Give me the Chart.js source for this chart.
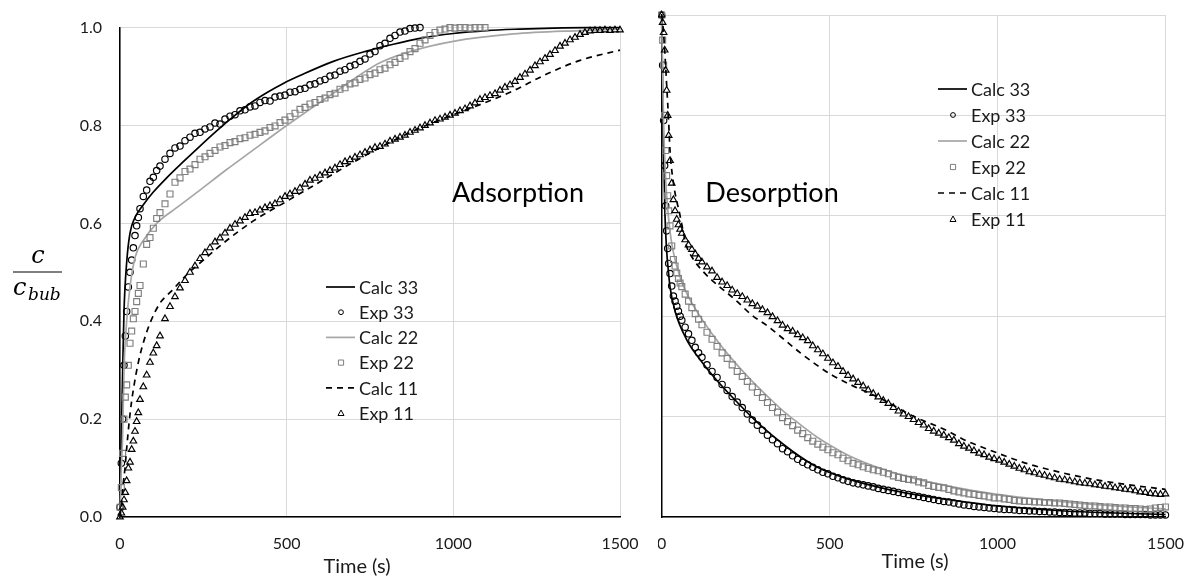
<!DOCTYPE html>
<html>
<head>
<meta charset="utf-8">
<title>Adsorption / Desorption</title>
<script src="https://cdn.jsdelivr.net/npm/chart.js@4/dist/chart.umd.min.js"></script>
<style>
    body { margin: 0; background: #fff; width: 1201px; height: 579px; overflow: hidden; position: relative; }
    #wrap-ads { position: absolute; left: 0; top: 0; width: 658px; height: 579px; background: #fff; z-index: 2; overflow: hidden; }
    #wrap-des { position: absolute; left: 640px; top: 0; width: 561px; height: 579px; z-index: 1; }
</style>
</head>
<body>
<div id="wrap-ads"><canvas id="ads" width="656" height="579"></canvas></div>
<div id="wrap-des"><canvas id="des" width="561" height="579"></canvas></div>
<script>
// ---- data ----
const xTicks = [0, 500, 1000, 1500];
const yTicks = [0, 0.2, 0.4, 0.6, 0.8, 1.0];
const seriesNames = ["Calc 33", "Exp 33", "Calc 22", "Exp 22", "Calc 11", "Exp 11"];

// adsorption (left)
const expTimesA = [0, 4, 8, 12, 16, 20, 25, 30, 35, 40, 45, 50, 55, 60,
    70, 80, 90, 100, 110, 120,
    135, 150, 165, 180, 195, 210, 225, 240, 255, 270, 285, 300, 315, 330, 345, 360, 375, 390, 405, 420,
    435, 450, 465, 480, 495, 510, 525, 540, 555, 570, 585, 600, 615, 630, 645, 660, 675, 690, 705, 720,
    735, 750, 765, 780, 795, 810, 825, 840, 855, 870, 885, 900, 915, 930, 945, 960, 975, 990, 1005, 1020,
    1035, 1050, 1065, 1080, 1095, 1110, 1125, 1140, 1155, 1170, 1185, 1200, 1215, 1230, 1245, 1260, 1275, 1290, 1305, 1320,
    1335, 1350, 1365, 1380, 1395, 1410, 1425, 1440, 1455, 1470, 1485, 1500];
const exp33A = [0.02, 0.11, 0.20, 0.31, 0.37, 0.42, 0.47, 0.50, 0.525, 0.55, 0.575, 0.595, 0.612, 0.63,
    0.655, 0.668, 0.686, 0.694, 0.708, 0.717,
    0.731, 0.743, 0.754, 0.758, 0.769, 0.776, 0.784, 0.786, 0.793, 0.797, 0.805, 0.803, 0.813, 0.819, 0.822, 0.83, 0.832, 0.838, 0.84, 0.847,
    0.851, 0.85, 0.858, 0.86, 0.862, 0.868, 0.869, 0.874, 0.876, 0.883, 0.885, 0.891, 0.894, 0.901, 0.903, 0.911, 0.914, 0.921, 0.924, 0.931,
    0.936, 0.946, 0.951, 0.963, 0.968, 0.978, 0.984, 0.991, 0.993, 0.998, 0.999, 1.0];
const exp22A = [0.02, 0.06, 0.13, 0.20, 0.245, 0.27, 0.31, 0.355, 0.38, 0.405, 0.42, 0.44, 0.457, 0.473,
    0.517, 0.557, 0.571, 0.59, 0.61, 0.622,
    0.64, 0.66, 0.684, 0.693, 0.706, 0.711, 0.72, 0.731, 0.736, 0.743, 0.749, 0.756, 0.759, 0.765, 0.767, 0.773, 0.775, 0.78, 0.782, 0.786,
    0.789, 0.796, 0.799, 0.806, 0.811, 0.818, 0.825, 0.833, 0.837, 0.844, 0.847, 0.853, 0.856, 0.863, 0.866, 0.874, 0.877, 0.885, 0.887, 0.894,
    0.897, 0.904, 0.907, 0.914, 0.917, 0.924, 0.929, 0.937, 0.942, 0.951, 0.957, 0.968, 0.975, 0.984, 0.99, 0.995, 0.997, 1.0, 0.999, 1.0,
    1.0, 0.999, 1.0, 1.0, 1.0];
const exp11A = [0.0, 0.008, 0.02, 0.035, 0.05, 0.074, 0.1, 0.112, 0.138, 0.155, 0.175, 0.195, 0.213, 0.24,
    0.266, 0.29, 0.316, 0.335, 0.35, 0.37,
    0.405, 0.43, 0.45, 0.468, 0.483, 0.5, 0.513, 0.528, 0.54, 0.55, 0.562, 0.57, 0.58, 0.59, 0.598, 0.605, 0.612, 0.62, 0.622, 0.627,
    0.632, 0.636, 0.64, 0.648, 0.655, 0.66, 0.665, 0.672, 0.68, 0.688, 0.692, 0.698, 0.703, 0.708, 0.713, 0.72, 0.726, 0.73, 0.735, 0.74,
    0.745, 0.75, 0.755, 0.757, 0.762, 0.768, 0.772, 0.776, 0.78, 0.786, 0.79, 0.795, 0.8, 0.805, 0.81, 0.813, 0.817, 0.821, 0.825, 0.83,
    0.834, 0.84, 0.846, 0.853, 0.857, 0.861, 0.865, 0.872, 0.878, 0.883, 0.89, 0.898, 0.905, 0.913, 0.922, 0.93, 0.937, 0.945, 0.953, 0.962,
    0.968, 0.975, 0.98, 0.986, 0.99, 0.993, 0.994, 0.994, 0.995, 0.994, 0.995, 0.995];
const calc33TimesA = [0, 2, 5, 8, 12, 20, 30, 45, 70, 100, 140, 190, 240, 290, 340, 390, 440, 490, 540, 640, 740, 820, 900, 1000, 1100, 1200, 1300, 1400, 1500];
const calc33A = [0, 0.1, 0.2, 0.3, 0.42, 0.52, 0.58, 0.612, 0.638, 0.664, 0.693, 0.726, 0.758, 0.789, 0.818, 0.845, 0.867, 0.886, 0.902, 0.931, 0.952, 0.966, 0.978, 0.988, 0.994, 0.997, 0.999, 1.0, 1.0];
const calc22TimesA = [0, 3, 8, 12, 20, 30, 45, 70, 110, 170, 240, 320, 390, 500, 640, 780, 880, 1000, 1180, 1380, 1500];
const calc22A = [0, 0.08, 0.17, 0.3, 0.4, 0.47, 0.53, 0.565, 0.6, 0.632, 0.668, 0.71, 0.745, 0.8, 0.866, 0.928, 0.953, 0.972, 0.987, 0.994, 0.997];
const calc11TimesA = [0, 5, 10, 15, 20, 30, 40, 55, 70, 90, 120, 155, 200, 250, 320, 400, 500, 600, 700, 800, 900, 1000, 1100, 1180, 1280, 1380, 1500];
const calc11A = [0, 0.03, 0.07, 0.1, 0.14, 0.21, 0.26, 0.316, 0.356, 0.396, 0.437, 0.462, 0.495, 0.525, 0.565, 0.605, 0.645, 0.685, 0.725, 0.762, 0.795, 0.822, 0.848, 0.871, 0.905, 0.933, 0.954];

// desorption (right)
const expTimesD = [0, 3, 6, 9, 12, 15, 18, 21, 25, 30, 35, 40, 45, 50, 55, 60,
    70, 80, 90, 100, 110, 120,
    135, 150, 165, 180, 195, 210, 225, 240, 255, 270, 285, 300, 315, 330, 345, 360, 375, 390, 405, 420,
    435, 450, 465, 480, 495, 510, 525, 540, 555, 570, 585, 600, 615, 630, 645, 660, 675, 690, 705, 720,
    735, 750, 765, 780, 795, 810, 825, 840, 855, 870, 885, 900, 915, 930, 945, 960, 975, 990, 1005, 1020,
    1035, 1050, 1065, 1080, 1095, 1110, 1125, 1140, 1155, 1170, 1185, 1200, 1215, 1230, 1245, 1260, 1275, 1290, 1305, 1320,
    1335, 1350, 1365, 1380, 1395, 1410, 1425, 1440, 1455, 1470, 1485, 1500];
const exp33D = [1.0, 0.9, 0.79, 0.7, 0.62, 0.57, 0.535, 0.505, 0.485, 0.46, 0.44, 0.43, 0.42, 0.41, 0.4, 0.392,
    0.378, 0.365, 0.352, 0.338, 0.327, 0.318,
    0.303, 0.29, 0.278, 0.264, 0.252, 0.24, 0.229, 0.218, 0.205, 0.193, 0.183, 0.173, 0.163, 0.154, 0.146, 0.136, 0.13, 0.122, 0.115, 0.109,
    0.104, 0.099, 0.094, 0.089, 0.086, 0.081, 0.078, 0.074, 0.071, 0.068, 0.066, 0.064, 0.062, 0.06, 0.057, 0.055, 0.053, 0.051, 0.049, 0.047,
    0.045, 0.043, 0.041, 0.039, 0.037, 0.035, 0.033, 0.031, 0.03, 0.028, 0.026, 0.024, 0.023, 0.021, 0.02, 0.019, 0.018, 0.017, 0.016, 0.015,
    0.015, 0.014, 0.013, 0.013, 0.012, 0.012, 0.011, 0.011, 0.01, 0.01, 0.009, 0.009, 0.009, 0.008, 0.008, 0.008, 0.007, 0.007, 0.007, 0.006,
    0.006, 0.006, 0.006, 0.005, 0.005, 0.005, 0.005, 0.005, 0.004, 0.004, 0.004, 0.004];
const exp22D = [1.0, 0.95, 0.9, 0.8, 0.73, 0.68, 0.64, 0.61, 0.58, 0.54, 0.513, 0.5, 0.486, 0.475, 0.466, 0.459,
    0.444, 0.43, 0.417, 0.405, 0.394, 0.383,
    0.368, 0.354, 0.34, 0.327, 0.316, 0.303, 0.29, 0.28, 0.27, 0.259, 0.248, 0.238, 0.228, 0.218, 0.209, 0.198, 0.19, 0.182, 0.173, 0.166,
    0.158, 0.151, 0.145, 0.139, 0.134, 0.128, 0.124, 0.117, 0.112, 0.107, 0.104, 0.1, 0.097, 0.094, 0.092, 0.089, 0.086, 0.082, 0.079, 0.077,
    0.075, 0.074, 0.07, 0.068, 0.063, 0.061, 0.059, 0.058, 0.055, 0.052, 0.05, 0.048, 0.046, 0.045, 0.043, 0.042, 0.04, 0.038, 0.038, 0.036,
    0.035, 0.033, 0.032, 0.031, 0.031, 0.03, 0.03, 0.029, 0.029, 0.028, 0.028, 0.027, 0.026, 0.025, 0.024, 0.023, 0.022, 0.022, 0.021, 0.02,
    0.02, 0.019, 0.018, 0.018, 0.017, 0.017, 0.016, 0.015, 0.016, 0.018, 0.019, 0.02];
const exp11D = [1.0, 0.985, 0.965, 0.93, 0.89, 0.85, 0.8, 0.76, 0.71, 0.665, 0.632, 0.61, 0.593, 0.582, 0.573, 0.565,
    0.552, 0.542, 0.533, 0.524, 0.515, 0.508,
    0.498, 0.49, 0.477, 0.468, 0.461, 0.452, 0.445, 0.439, 0.432, 0.425, 0.42, 0.413, 0.407, 0.399, 0.391, 0.382, 0.375, 0.37, 0.363, 0.357,
    0.351, 0.341, 0.333, 0.325, 0.316, 0.307, 0.3, 0.29, 0.282, 0.275, 0.268, 0.261, 0.253, 0.246, 0.239, 0.232, 0.226, 0.218, 0.211, 0.205,
    0.2, 0.194, 0.188, 0.183, 0.176, 0.171, 0.167, 0.163, 0.158, 0.153, 0.146, 0.141, 0.137, 0.132, 0.127, 0.124, 0.119, 0.116, 0.113, 0.109,
    0.105, 0.101, 0.097, 0.094, 0.09, 0.088, 0.085, 0.083, 0.08, 0.078, 0.075, 0.074, 0.072, 0.07, 0.068, 0.067, 0.066, 0.064, 0.063, 0.061,
    0.06, 0.058, 0.057, 0.055, 0.054, 0.052, 0.05, 0.049, 0.047, 0.046, 0.045, 0.046];
const calc33TimesD = [0, 2, 5, 10, 15, 20, 25, 40, 74, 122, 170, 220, 267, 316, 364, 413, 461, 509, 558, 655, 752, 850, 1000, 1200, 1350, 1500];
const calc33D = [1.0, 0.9, 0.76, 0.6, 0.53, 0.49, 0.458, 0.41, 0.354, 0.307, 0.268, 0.232, 0.2, 0.17, 0.144, 0.12, 0.1, 0.086, 0.075, 0.058, 0.045, 0.035, 0.022, 0.012, 0.008, 0.005];
const calc22TimesD = [0, 3, 6, 10, 15, 20, 30, 45, 65, 100, 150, 200, 267, 316, 364, 413, 461, 509, 558, 655, 752, 850, 1000, 1200, 1350, 1500];
const calc22D = [1.0, 0.88, 0.78, 0.7, 0.64, 0.6, 0.545, 0.5, 0.46, 0.415, 0.365, 0.322, 0.272, 0.24, 0.21, 0.184, 0.16, 0.14, 0.122, 0.096, 0.077, 0.062, 0.045, 0.03, 0.022, 0.016];
const calc11TimesD = [0, 5, 10, 15, 20, 25, 35, 55, 74, 93, 122, 170, 219, 267, 316, 364, 413, 461, 509, 558, 655, 752, 850, 897, 994, 1090, 1187, 1285, 1381, 1500];
const calc11D = [1.0, 0.97, 0.92, 0.86, 0.8, 0.73, 0.666, 0.6, 0.54, 0.515, 0.49, 0.46, 0.433, 0.403, 0.38, 0.354, 0.327, 0.303, 0.282, 0.265, 0.235, 0.2, 0.172, 0.155, 0.129, 0.106, 0.089, 0.075, 0.065, 0.055];

// ---- helpers ----
const BLACK = "#000000";
const LINE_GRAY = "#a6a6a6";
const MARK_GRAY = "#7f7f7f";
const TEXT = "#1a1a1a";

function pairs(times, values) {
    return values.map((v, i) => ({ x: times[i], y: v }));
}

function calcSet(label, times, values, color, dash, order) {
    return {
        label: label,
        data: pairs(times, values),
        borderColor: color,
        borderWidth: 1.7,
        borderDash: dash,
        pointRadius: 0,
        cubicInterpolationMode: "monotone",
        fill: false,
        order: order,
        clip: false
    };
}

function expSet(label, times, values, style, color, radius, order) {
    return {
        label: label,
        data: pairs(times, values),
        showLine: false,
        pointStyle: style,
        pointRadius: radius,
        pointBorderColor: color,
        pointBackgroundColor: "rgba(0,0,0,0)",
        pointBorderWidth: 1.15,
        order: order,
        clip: false
    };
}

// legend, panel name, axis title and the fraction label
const notesPlugin = {
    id: "notes",
    afterDraw(chart, args, opts) {
        const ctx = chart.ctx;
        ctx.save();
        ctx.fillStyle = "#000";
        ctx.textAlign = "center";
        ctx.textBaseline = "alphabetic";
        ctx.font = "27px Lato";
        ctx.fillText(opts.name, opts.nameX, opts.nameY);

        ctx.fillStyle = TEXT;
        ctx.font = "20px Lato";
        ctx.textBaseline = "middle";
        ctx.fillText("Time (s)", opts.titleX, opts.titleY);

        // legend entries
        ctx.textAlign = "left";
        ctx.font = "18px Lato";
        chart.data.datasets.forEach((ds, i) => {
            const y = opts.legendY + i * opts.legendStep;
            const x0 = opts.legendX;
            if (ds.showLine === false) {
                const cx = x0 + 15;
                ctx.strokeStyle = ds.pointBorderColor;
                ctx.lineWidth = 1;
                ctx.beginPath();
                if (ds.pointStyle === "circle") {
                    ctx.arc(cx, y, 2.4, 0, Math.PI * 2);
                } else if (ds.pointStyle === "rect") {
                    ctx.rect(cx - 2.6, y - 2.6, 5.2, 5.2);
                } else {
                    ctx.moveTo(cx, y - 3);
                    ctx.lineTo(cx + 3, y + 2.5);
                    ctx.lineTo(cx - 3, y + 2.5);
                    ctx.closePath();
                }
                ctx.stroke();
            } else {
                ctx.strokeStyle = ds.borderColor;
                ctx.lineWidth = 1.7;
                ctx.setLineDash(ds.borderDash || []);
                ctx.beginPath();
                ctx.moveTo(x0, y);
                ctx.lineTo(x0 + 29, y);
                ctx.stroke();
                ctx.setLineDash([]);
            }
            ctx.fillStyle = TEXT;
            ctx.fillText(ds.label, x0 + 33, y + 1);
        });

        if (opts.fraction) {
            ctx.fillStyle = "#000";
            ctx.textAlign = "center";
            ctx.textBaseline = "alphabetic";
            ctx.font = "italic 24px 'DejaVu Serif'";
            ctx.fillText("c", 38, 263);
            ctx.strokeStyle = "#000";
            ctx.lineWidth = 1.2;
            ctx.beginPath();
            ctx.moveTo(13, 272);
            ctx.lineTo(62, 272);
            ctx.stroke();
            ctx.textAlign = "left";
            ctx.fillText("c", 13, 295);
            ctx.font = "italic 17px 'DejaVu Serif'";
            ctx.fillText("bub", 28, 300);
        }
        ctx.restore();
    }
};

function baseOptions(yLabels, yWidth, pad, notes) {
    return {
        responsive: false,
        animation: false,
        layout: { padding: pad },
        plugins: {
            legend: { display: false },
            tooltip: { enabled: false },
            notes: notes
        },
        scales: {
            x: {
                type: "linear",
                min: 0,
                max: 1500,
                afterBuildTicks: s => { s.ticks = xTicks.map(v => ({ value: v })); },
                afterFit: s => { s.height = 62; },
                grid: { color: "#d9d9d9", lineWidth: 1, drawTicks: false },
                border: { color: BLACK, width: 1.5 },
                ticks: {
                    padding: 17,
                    color: TEXT,
                    font: { family: "Lato", size: 16 },
                    callback: v => String(v)
                }
            },
            y: {
                min: 0,
                max: 1,
                afterBuildTicks: s => { s.ticks = yTicks.map(v => ({ value: v })); },
                afterFit: s => { s.width = yWidth; },
                grid: { color: "#d9d9d9", lineWidth: 1, drawTicks: false },
                border: { color: BLACK, width: 1.5 },
                ticks: {
                    display: yLabels,
                    padding: 18,
                    color: TEXT,
                    font: { family: "Lato", size: 16 },
                    callback: v => v.toFixed(1)
                }
            }
        }
    };
}

function buildSets(t, e33, e22, e11, c33t, c33, c22t, c22, c11t, c11) {
    return [
        calcSet(seriesNames[0], c33t, c33, BLACK, [], 6),
        expSet(seriesNames[1], t, e33, "circle", BLACK, 3.2, 5),
        calcSet(seriesNames[2], c22t, c22, LINE_GRAY, [], 4),
        expSet(seriesNames[3], t, e22, "rect", MARK_GRAY, 4.2, 3),
        calcSet(seriesNames[4], c11t, c11, BLACK, [6, 5], 2),
        expSet(seriesNames[5], t, e11, "triangle", BLACK, 3.8, 1)
    ];
}

new Chart(document.getElementById("ads"), {
    type: "line",
    data: {
        datasets: buildSets(expTimesA, exp33A, exp22A, exp11A,
            calc33TimesA, calc33A, calc22TimesA, calc22A, calc11TimesA, calc11A)
    },
    options: baseOptions(true, 120, { left: 0, top: 20, right: 36, bottom: 0 }, {
        name: "Adsorption", nameX: 518, nameY: 202,
        titleX: 357, titleY: 567,
        legendX: 326, legendY: 287, legendStep: 25.2,
        fraction: true
    }),
    plugins: [notesPlugin]
});

new Chart(document.getElementById("des"), {
    type: "line",
    data: {
        datasets: buildSets(expTimesD, exp33D, exp22D, exp11D,
            calc33TimesD, calc33D, calc22TimesD, calc22D, calc11TimesD, calc11D)
    },
    options: baseOptions(false, 18, { left: 0, top: 15, right: 28, bottom: 0 }, {
        name: "Desorption", nameX: 132, nameY: 202,
        titleX: 275, titleY: 562,
        legendX: 298, legendY: 89, legendStep: 26,
        fraction: false
    }),
    plugins: [notesPlugin]
});
</script>
</body>
</html>
